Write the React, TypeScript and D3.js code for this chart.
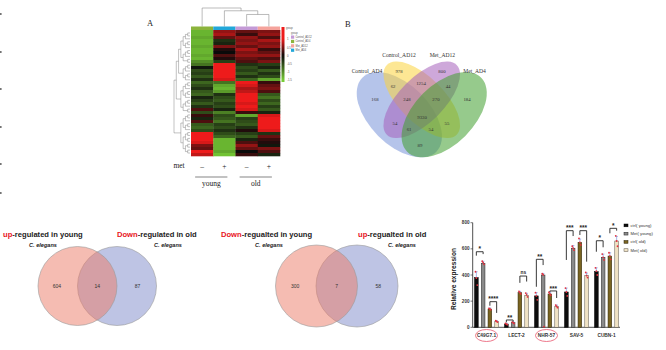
import * as d3 from "d3";

// ---------- panel A : heatmap ----------
const heatSamples = ["Control_AD4", "Met_AD4", "Control_AD12", "Met_AD12"];
const legendGroups = ["Control_AD12", "Control_AD4", "Met_AD12", "Met_AD4"];
const groupColors: Record<string, string> = {
  Control_AD12: "#c49ad6",
  Control_AD4: "#8cb43c",
  Met_AD12: "#f5a39c",
  Met_AD4: "#22a7d9",
};
// z-scores per gene row: [Control_AD4, Met_AD4, Control_AD12, Met_AD12]
const heatRows: number[][] = [
  [-1.3, 0.6, 0.4, 0.5],
  [-1.3, 0.7, 0.2, 0.6],
  [-1.2, 0.4, 0.6, 0.3],
  [-1.3, -0.3, 0.5, 0.7],
  [-1.3, -0.2, 0.6, 0.5],
  [-1.2, 0.5, 0.4, 0.6],
  [-1.3, 0.1, 0.7, 0.2],
  [-1.3, 0.0, 0.5, 0.4],
  [-1.2, 0.3, 0.6, 0.6],
  [-1.3, 0.1, 0.4, 0.3],
  [-1.0, -0.4, 0.3, 0.5],
  [-0.8, 1.0, -0.3, -0.4],
  [-0.1, 1.0, -0.5, -0.2],
  [-0.5, 1.0, -0.4, -0.6],
  [-0.4, 1.0, -0.6, -0.3],
  [-0.6, 1.0, -0.3, -0.5],
  [-0.3, 0.9, -0.7, -1.2],
  [-0.7, -0.8, 1.0, 0.2],
  [-0.5, -1.2, 0.9, 0.4],
  [-0.3, -1.3, 0.7, 0.5],
  [-0.6, -1.1, 0.8, 0.3],
  [-0.7, -0.3, 1.0, -0.6],
  [-0.2, -0.5, 1.0, -0.8],
  [-0.4, -0.6, 1.0, -0.5],
  [-0.6, -0.4, 0.9, -0.7],
  [-0.3, -0.5, 1.0, -0.4],
  [0.3, -0.2, 0.9, -0.6],
  [-0.5, -0.9, 0.2, -0.2],
  [0.2, -0.5, -1.2, 0.9],
  [-0.2, -0.6, -0.4, 1.0],
  [0.3, -0.8, -0.5, 1.0],
  [-0.6, -0.4, -0.6, 1.0],
  [-0.7, -0.5, -0.3, 1.0],
  [-0.5, -0.3, 0.1, 0.9],
  [1.0, -0.5, -0.4, -0.3],
  [1.0, -0.7, -0.6, 0.4],
  [1.0, -1.3, -0.2, 0.2],
  [0.9, -1.3, 0.3, 0.1],
  [0.5, -1.3, 0.6, -0.1],
  [0.4, -1.3, 0.4, 0.5],
  [1.0, -1.2, 0.0, 0.3],
  [0.8, -1.4, 0.2, -0.2],
];
const rowBlocks = [11, 6, 11, 6, 8];
const colorTicks = [1, 0.5, 0, -0.5, -1, -1.5];
const metSigns = ["–", "+", "–", "+"];
const ageGroups = ["young", "old"];
// column dendrogram, h = merge height
const colTree = {
  h: 1,
  children: [
    { name: "Control_AD4" },
    { h: 0.85, children: [{ name: "Met_AD4" }, { h: 0.65, children: [{ name: "Control_AD12" }, { name: "Met_AD12" }] }] },
  ],
};

// ---------- panel B : 4-set venn ----------
const vennSets = ["Control_AD4", "Control_AD12", "Met_AD12", "Met_AD4"];
const vennColors = ["#7893d9", "#fcd43c", "#a561bb", "#3f9e2e"];
const vennCounts = [978, 800, 62, 1254, 44, 168, 248, 270, 184, 9330, 54, 55, 61, 54, 89];

// ---------- bottom venns ----------
const vennTitlesA = [["up", "-regulated in young"], ["Down", "-regulated in old"]];
const vennCountsA = [604, 14, 87];
const vennTitlesB = [["Down", "-regualted in young"], ["up", "-regualted in old"]];
const vennCountsB = [300, 7, 58];

// ---------- qPCR bars ----------
const genes = ["C49G7.1", "LECT-2", "NHR-57", "SAV-5", "CUBN-1"];
const seriesNames = ["ctrl( young)", "Met( young)", "ctrl( old)", "Met( old)"];
const ctrlYoung = [380, 25, 240, 270, 425];
const metYoung = [490, 35, 400, 605, 535];
const ctrlOld = [140, 265, 255, 650, 545];
const metOld = [45, 245, 160, 395, 660];
const ctrlYoungErr = [45, 6, 25, 30, 30];
const metYoungErr = [15, 5, 12, 20, 25];
const ctrlOldErr = [8, 10, 12, 25, 25];
const metOldErr = [6, 15, 10, 20, 35];
const ctrlYoungPts = [[425, 377, 323], [30, 25, 20], [265, 240, 210], [300, 270, 240], [455, 430, 400]];
const metYoungPts = [[505, 495, 482], [40, 35, 30], [410, 402, 5], [620, 605, 590], [560, 535, 515]];
const ctrlOldPts = [[145, 140, 135], [275, 265, 255], [268, 255, 245], [680, 650, 630], [570, 545, 520]];
const metOldPts = [[50, 45, 40], [262, 248, 232], [170, 160, 150], [420, 395, 380], [700, 660, 620]];
const yTicks = [0, 200, 400, 600, 800];
const circledGenes = ["C49G7.1", "NHR-57"];
const sigBrackets = [
  { gene: "C49G7.1", a: 0, b: 1, top: 578, ends: [548, 560], label: "*" },
  { gene: "C49G7.1", a: 2, b: 3, top: 196, ends: [165, 110], label: "****" },
  { gene: "LECT-2", a: 0, b: 1, top: 56, ends: [38, 42], label: "**" },
  { gene: "LECT-2", a: 2, b: 3, top: 392, ends: [340, 350], label: "ns" },
  { gene: "NHR-57", a: 0, b: 1, top: 520, ends: [310, 476], label: "**" },
  { gene: "NHR-57", a: 2, b: 3, top: 278, ends: [270, 224], label: "***" },
  { gene: "SAV-5", a: 0, b: 1, top: 739, ends: [515, 698], label: "***" },
  { gene: "SAV-5", a: 2, b: 3, top: 739, ends: [706, 502], label: "***" },
  { gene: "CUBN-1", a: 0, b: 1, top: 662, ends: [578, 612], label: "*" },
  { gene: "CUBN-1", a: 2, b: 3, top: 757, ends: [719, 739], label: "*" },
];

const SERIF = "'Liberation Serif', 'DejaVu Serif', serif";
const SANS = "'Liberation Sans', Arial, sans-serif";

type TNode = { children?: TNode[]; row?: number };
function splitRows(rows: number[]): TNode {
  if (rows.length === 1) return { row: rows[0] };
  const mid = Math.ceil(rows.length / 2);
  return { children: [splitRows(rows.slice(0, mid)), splitRows(rows.slice(mid))] };
}
function joinNodes(nodes: TNode[]): TNode {
  if (nodes.length === 1) return nodes[0];
  const mid = Math.ceil(nodes.length / 2);
  return { children: [joinNodes(nodes.slice(0, mid)), joinNodes(nodes.slice(mid))] };
}

function Heatmap() {
  const x = d3.scaleBand<string>().domain(heatSamples).range([191, 280]);
  const y = d3.scaleBand<number>().domain(d3.range(heatRows.length)).range([30, 156]);
  const color = d3.scaleLinear<string>().domain([-1.5, 0, 1]).range(["#78cf36", "#0a0a0a", "#ee1b1b"]).clamp(true);

  // row dendrogram
  let start = 0;
  const blocks = rowBlocks.map((n) => {
    const t = splitRows(d3.range(start, start + n));
    start += n;
    return t;
  });
  const rowRoot = d3.hierarchy<TNode>(joinNodes(blocks));
  d3.cluster<TNode>().size([y.step() * (heatRows.length - 1), 16]).separation(() => 1)(rowRoot);
  const rx = (v: number) => 174 + v;
  const ry = (v: number) => 30 + y.step() / 2 + v;

  // column dendrogram
  const colRoot = d3.hierarchy<any>(colTree);
  const cx = (name: string) => (x(name) ?? 0) + x.bandwidth() / 2;
  const hy = d3.scaleLinear().domain([0, 1]).range([26.5, 8]);
  const posOf = (n: d3.HierarchyNode<any>): number =>
    n.children ? d3.mean(n.children.map(posOf)) ?? 0 : cx(n.data.name);
  const colLinks = colRoot.links().map((l) => {
    const px = posOf(l.source), py = hy(l.source.data.h);
    const tx = posOf(l.target), ty = hy(l.target.data.h ?? 0);
    return `M${px},${py}H${tx}V${ty}`;
  });

  const cb = d3.scaleLinear().domain([-1.6, 1.75]).range([82, 27]);
  const stops = d3.range(0, 1.0001, 0.05).map((t) => {
    const v = -1.6 + t * 3.35;
    return { off: t, c: color(v) };
  });
  const lg = d3.scaleBand<string>().domain(legendGroups).range([35.5, 53]);

  return (
    <g>
      <text x={147} y={26} fontFamily={SERIF} fontSize={8.5} fill="#222">A</text>
      {colLinks.map((d, i) => (
        <path key={i} d={d} fill="none" stroke="#777" strokeWidth={0.5} />
      ))}
      {rowRoot.links().map((l, i) => (
        <path
          key={i}
          d={`M${rx(l.source.y ?? 0)},${ry(l.source.x ?? 0)}V${ry(l.target.x ?? 0)}H${rx(l.target.y ?? 0)}`}
          fill="none"
          stroke="#666"
          strokeWidth={0.4}
        />
      ))}
      {heatSamples.map((s) => (
        <rect key={s} x={x(s)} y={26.5} width={x.bandwidth()} height={3.5} fill={groupColors[s]} />
      ))}
      {heatRows.map((row, i) =>
        row.map((v, j) => (
          <rect
            key={`${i}-${j}`}
            x={x(heatSamples[j])}
            y={y(i)}
            width={x.bandwidth() + 0.3}
            height={y.bandwidth() + 0.3}
            fill={color(v)}
          />
        ))
      )}
      {/* color key */}
      <defs>
        <linearGradient id="heat-key" x1="0" y1="1" x2="0" y2="0">
          {stops.map((s, i) => (
            <stop key={i} offset={s.off} stopColor={s.c} />
          ))}
        </linearGradient>
      </defs>
      <rect x={281.5} y={27} width={3} height={55} fill="url(#heat-key)" />
      <text x={286} y={29} fontFamily={SANS} fontSize={2.6} fill="#555">group</text>
      {colorTicks.map((t) => (
        <text key={t} x={287} y={cb(t) + 1} fontFamily={SANS} fontSize={2.8} fill="#555">{t}</text>
      ))}
      <text x={291} y={34} fontFamily={SANS} fontSize={2.6} fill="#555">group</text>
      {legendGroups.map((g) => (
        <g key={g}>
          <rect x={291} y={lg(g)} width={3.2} height={3.2} fill={groupColors[g]} />
          <text x={295.5} y={(lg(g) ?? 0) + 2.6} fontFamily={SANS} fontSize={2.6} fill="#555">{g}</text>
        </g>
      ))}
      {/* met / age labels */}
      <text x={179} y={168} textAnchor="middle" fontFamily={SERIF} fontSize={7.5} fill="#222">met</text>
      {heatSamples.map((s, i) => (
        <text key={s} x={cx(s)} y={168.5} textAnchor="middle" fontFamily={SERIF} fontSize={7.5} fill="#222">{metSigns[i]}</text>
      ))}
      {ageGroups.map((a, i) => {
        const l = cx(heatSamples[i * 2]) - 7;
        const r = cx(heatSamples[i * 2 + 1]) + 3;
        return (
          <g key={a}>
            <line x1={l} x2={r} y1={177} y2={177} stroke="#333" strokeWidth={0.6} />
            <text x={(l + r) / 2} y={186} textAnchor="middle" fontFamily={SERIF} fontSize={7.5} fill="#222">{a}</text>
          </g>
        );
      })}
    </g>
  );
}

function Venn4() {
  // unit layout of a classic 4-ellipse venn
  const ux = d3.scaleLinear().domain([0, 1]).range([347, 496.5]);
  const uy = d3.scaleLinear().domain([0, 1]).range([185, 35.5]);
  const k = 149.5;
  const shapes = [
    { cx: 0.35, cy: 0.47, a: 0.35, b: 0.2, rot: 45 },
    { cx: 0.5, cy: 0.57, a: 0.33, b: 0.15, rot: 45 },
    { cx: 0.5, cy: 0.57, a: 0.33, b: 0.15, rot: -45 },
    { cx: 0.65, cy: 0.47, a: 0.35, b: 0.2, rot: -45 },
  ];
  const countPos = [
    [0.348, 0.763], [0.635, 0.763], [0.308, 0.662], [0.495, 0.682], [0.676, 0.662],
    [0.187, 0.575], [0.401, 0.575], [0.595, 0.575], [0.803, 0.575], [0.502, 0.455],
    [0.321, 0.415], [0.669, 0.415], [0.415, 0.375], [0.562, 0.375], [0.488, 0.268],
  ];
  const labelPos = [[0.134, 0.765], [0.348, 0.868], [0.638, 0.868], [0.853, 0.765]];
  return (
    <g>
      <text x={345} y={27} fontFamily={SERIF} fontSize={8.5} fill="#222">B</text>
      {vennSets.map((s, i) => {
        const e = shapes[i];
        return (
          <ellipse
            key={s}
            cx={ux(e.cx)}
            cy={uy(e.cy)}
            rx={e.a * k}
            ry={e.b * k}
            transform={`rotate(${e.rot},${ux(e.cx)},${uy(e.cy)})`}
            fill={vennColors[i]}
            fillOpacity={0.55}
          />
        );
      })}
      {vennSets.map((s, i) => (
        <text key={s} x={ux(labelPos[i][0])} y={uy(labelPos[i][1]) + 2} textAnchor="middle" fontFamily={SERIF} fontSize={5.6} fill="#333">{s}</text>
      ))}
      {vennCounts.map((c, i) => (
        <text key={i} x={ux(countPos[i][0])} y={uy(countPos[i][1]) + 1.7} textAnchor="middle" fontFamily={SERIF} fontSize={4.8} fill="#333">{c}</text>
      ))}
    </g>
  );
}

function Venn2({ counts, left, right, cy, r }: { counts: number[]; left: number; right: number; cy: number; r: number }) {
  const xs = [left - r * 0.52, (left + right) / 2, right + r * 0.52];
  return (
    <g>
      <circle cx={right} cy={cy} r={r} fill="#7d89c9" fillOpacity={0.5} stroke="#9a9a9a" strokeWidth={0.6} />
      <circle cx={left} cy={cy} r={r} fill="#eb7965" fillOpacity={0.5} stroke="#9a9a9a" strokeWidth={0.6} />
      {counts.map((c, i) => (
        <text key={i} x={xs[i]} y={cy + 2} textAnchor="middle" fontFamily={SANS} fontSize={5} fill="#333">{c}</text>
      ))}
    </g>
  );
}

function Title({ x, y, parts, sub }: { x: number; y: number; parts: string[]; sub: number }) {
  return (
    <g fontFamily={SANS} fontWeight="bold">
      <text x={x} y={y} fontSize={7.6} fill="#222">
        <tspan fill="#e8141c">{parts[0]}</tspan>
        <tspan>{parts[1]}</tspan>
      </text>
      <text x={sub} y={y + 9.5} fontSize={5.6} fontStyle="italic" textAnchor="middle" fill="#222">C. elegans</text>
    </g>
  );
}

function Bars() {
  const x = d3.scaleBand<string>().domain(genes).range([473, 620]).paddingInner(0.2).paddingOuter(0.05);
  const xs = d3.scaleBand<number>().domain(d3.range(4)).range([0, x.bandwidth()]).paddingInner(0.45);
  const y = d3.scaleLinear().domain([0, 800]).range([327.3, 222.7]);
  const values = [ctrlYoung, metYoung, ctrlOld, metOld];
  const errs = [ctrlYoungErr, metYoungErr, ctrlOldErr, metOldErr];
  const pts = [ctrlYoungPts, metYoungPts, ctrlOldPts, metOldPts];
  const fills = ["#0d0d0d", "#8a8a8a", "#7a6522", "#efe2c4"];
  const strokes = ["#000", "#262626", "#2a2208", "#5a5348"];
  const barX = (g: string, s: number) => (x(g) ?? 0) + (xs(s) ?? 0);
  const mid = (g: string, s: number) => barX(g, s) + xs.bandwidth() / 2;
  const lgy = d3.scaleBand<string>().domain(seriesNames).range([222, 255]);
  return (
    <g fontFamily={SANS}>
      {/* axes */}
      <line x1={472.7} x2={472.7} y1={y(800)} y2={y(0)} stroke="#222" strokeWidth={0.8} />
      <line x1={472.7} x2={620} y1={y(0)} y2={y(0)} stroke="#222" strokeWidth={0.8} />
      {yTicks.map((t) => (
        <g key={t}>
          <line x1={470.5} x2={472.7} y1={y(t)} y2={y(t)} stroke="#222" strokeWidth={0.6} />
          <text x={469.5} y={y(t) + 1.6} textAnchor="end" fontSize={4.6} fontWeight="bold" fill="#333">{t}</text>
        </g>
      ))}
      <text transform={`translate(455.5,279) rotate(-90)`} textAnchor="middle" fontSize={6.6} fontWeight="bold" fill="#222">Relative expression</text>
      {genes.map((g) => (
        <text key={g} x={(x(g) ?? 0) + x.bandwidth() / 2} y={337} textAnchor="middle" fontSize={4.8} fontWeight="bold" fill="#333">{g}</text>
      ))}
      {circledGenes.map((g) => (
        <ellipse key={g} cx={(x(g) ?? 0) + x.bandwidth() / 2} cy={335.5} rx={11} ry={6} fill="none" stroke="#e8576e" strokeWidth={0.8} />
      ))}
      {values.map((vals, s) =>
        genes.map((g, i) => (
          <g key={`${s}-${g}`}>
            <rect x={barX(g, s)} y={y(vals[i])} width={xs.bandwidth()} height={y(0) - y(vals[i])} fill={fills[s]} stroke={strokes[s]} strokeWidth={0.5} />
            <line x1={mid(g, s)} x2={mid(g, s)} y1={y(vals[i])} y2={y(vals[i] + errs[s][i])} stroke="#6f86d8" strokeWidth={0.6} />
            <line x1={mid(g, s) - 1.3} x2={mid(g, s) + 1.3} y1={y(vals[i] + errs[s][i])} y2={y(vals[i] + errs[s][i])} stroke="#6f86d8" strokeWidth={0.6} />
            {pts[s][i].map((p, j) => (
              <circle key={j} cx={mid(g, s) + (j - 1) * 0.9} cy={y(p)} r={0.9} fill="#e5303c" />
            ))}
          </g>
        ))
      )}
      {sigBrackets.map((b, i) => {
        const xa = mid(b.gene, b.a);
        const xb = mid(b.gene, b.b);
        return (
          <g key={i}>
            <path d={`M${xa},${y(b.ends[0])}V${y(b.top)}H${xb}V${y(b.ends[1])}`} fill="none" stroke="#222" strokeWidth={0.9} />
            <text x={(xa + xb) / 2} y={y(b.top) - (b.label === "ns" ? 1.8 : 0.4)} textAnchor="middle" fontSize={b.label === "ns" ? 4.8 : 6.5} fontWeight="bold" fill="#222">{b.label}</text>
          </g>
        );
      })}
      {seriesNames.map((s, i) => (
        <g key={s}>
          <rect x={624} y={(lgy(s) ?? 0) + 2} width={4} height={2.8} fill={fills[i]} stroke={strokes[i]} strokeWidth={0.5} />
          <text x={630.5} y={(lgy(s) ?? 0) + 4.8} fontSize={4.2} fill="#333">{s}</text>
        </g>
      ))}
    </g>
  );
}

const edgeTicks = [14, 52, 89, 127, 164, 193];

export default function App() {
  return (
    <svg width={666} height={350} style={{ position: "absolute", left: 0, top: 0, background: "#fff" }}>
      <rect width={666} height={350} fill="#fff" />
      {edgeTicks.map((t) => (
        <line key={t} x1={0} x2={1.6} y1={t} y2={t} stroke="#444" strokeWidth={1.4} />
      ))}
      <Heatmap />
      <Venn4 />
      <Title x={3} y={237} parts={vennTitlesA[0]} sub={43} />
      <Title x={117} y={237} parts={vennTitlesA[1]} sub={168} />
      <Venn2 counts={vennCountsA} left={77.5} right={117} cy={286} r={39.5} />
      <Title x={221} y={237} parts={vennTitlesB[0]} sub={269} />
      <Title x={358} y={237} parts={vennTitlesB[1]} sub={402} />
      <Venn2 counts={vennCountsB} left={316.5} right={357} cy={286} r={41} />
      <Bars />
    </svg>
  );
}
